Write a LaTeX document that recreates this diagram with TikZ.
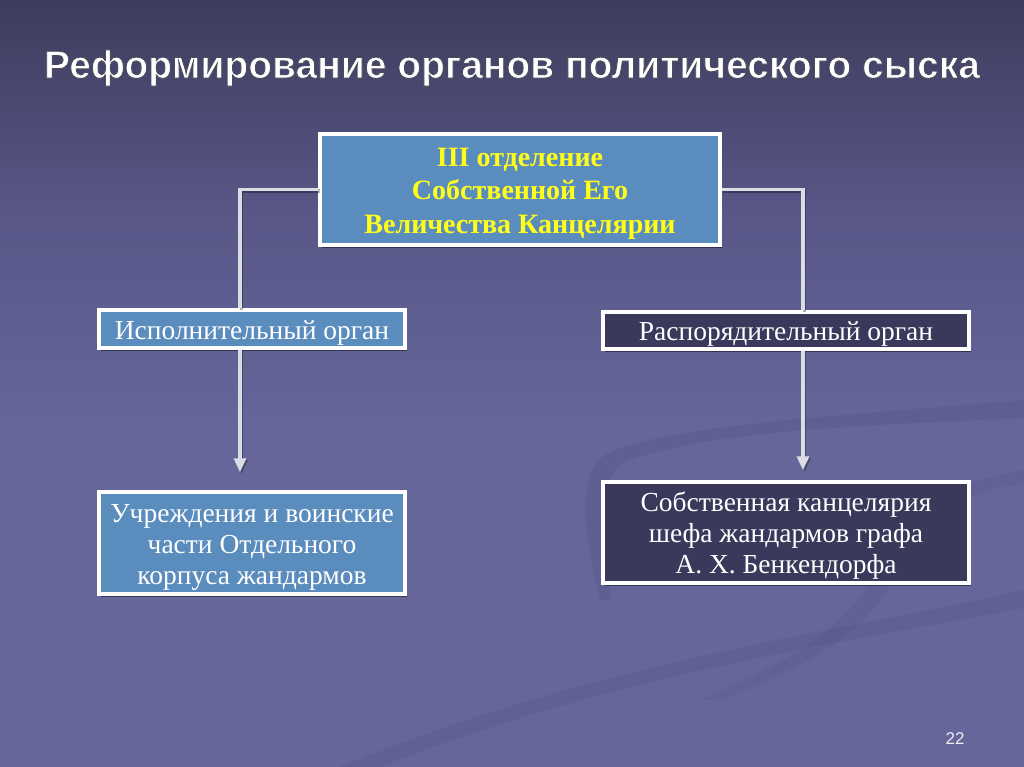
\documentclass[tikz,border=0pt]{standalone}
\usepackage{fontspec}
\setmainfont{Liberation Serif}
\newfontfamily\titlefont{Liberation Sans}
\newfontfamily\numfont{Liberation Sans}
\usetikzlibrary{shadows,arrows.meta,calc}
\definecolor{bgtop}{HTML}{3D3C5D}
\definecolor{bgmid}{HTML}{585788}
\definecolor{bgbot}{HTML}{67669A}
\definecolor{swoosh}{HTML}{4E4D7E}
\definecolor{steel}{HTML}{5B8CBE}
\definecolor{navy}{HTML}{3A395C}
\definecolor{conn}{HTML}{DCDCE6}
\definecolor{gold}{HTML}{FFFF1A}
\newcommand\titletext{Реформирование органов политического сыска}
\newcommand\topstrut{\rule{0pt}{26pt}}
\newcommand\outlined[1]{\special{pdf:code q 2 Tr 0.30 0.30 0.36 RG 0.9 w}#1\special{pdf:code 0 Tr Q}}
\begin{document}
\begin{tikzpicture}[x=1pt,y=-1pt,
  box/.style={draw=white,line width=3.5pt,rectangle,inner sep=0pt,align=center,text=white,
    drop shadow={shadow xshift=2pt,shadow yshift=-3pt,opacity=0.45,fill=black}},
  bluebox/.style={box,fill=steel},
  darkbox/.style={box,fill=navy},
  linkshadow/.style={draw=black,opacity=0.3,line width=3.5pt,transform canvas={xshift=1.5pt,yshift=-1.5pt}},
  link/.style={draw=conn,line width=3.5pt},
  arrowtip/.style={-{Triangle[width=12pt,length=14pt]}},
  boxtext/.style={font=\fontsize{27.5}{31}\selectfont},
  headtext/.style={font=\bfseries\fontsize{28}{33.5}\selectfont,text=gold},
  titleface/.style={font=\titlefont\bfseries\fontsize{39}{42}\selectfont},
]
% background
\useasboundingbox (0,0) rectangle (1024,767);
\fill[top color=bgtop,bottom color=bgbot,middle color=bgmid] (0,0) rectangle (1024,430);
\fill[bgbot] (0,429) rectangle (1024,767);
% swooshes
\fill[swoosh,opacity=0.25] (1024,400) .. controls (850,415) and (660,425) .. (605,455)
  .. controls (575,475) and (585,540) .. (600,600) -- (612,600)
  .. controls (600,540) and (595,480) .. (625,462)
  .. controls (700,432) and (860,425) .. (1024,418) -- cycle;
\fill[swoosh,opacity=0.22] (1024,590) .. controls (850,630) and (600,660) .. (340,767)
  -- (380,767) .. controls (620,672) and (860,640) .. (1024,608) -- cycle;
\fill[swoosh,opacity=0.18] (1024,470) .. controls (950,480) and (900,520) .. (880,560)
  .. controls (860,610) and (820,650) .. (700,700) -- (720,700)
  .. controls (840,655) and (880,615) .. (900,565)
  .. controls (920,520) and (960,490) .. (1024,484) -- cycle;
% title
\node (title) [titleface,text=white] at (512,68) {\outlined{\titletext}};
% boxes
\node (third) [bluebox,minimum width=400pt,minimum height=111pt,headtext] at (520,189.5)
  {\topstrut III отделение\\Собственной Его\\Величества Канцелярии};
\node (exec) [bluebox,minimum width=306pt,minimum height=38pt,boxtext] at (252,329)
  {\topstrut Исполнительный орган};
\node (dist) [darkbox,minimum width=366pt,minimum height=37pt,boxtext] at (786,330.5)
  {\topstrut Распорядительный орган};
\node (inst) [bluebox,minimum width=306pt,minimum height=102pt,boxtext] at (252,543)
  {\topstrut Учреждения и воинские\\части Отдельного\\корпуса жандармов};
\node (canc) [darkbox,minimum width=366pt,minimum height=101pt,boxtext] at (786,532.5)
  {\topstrut Собственная канцелярия\\шефа жандармов графа\\А. Х. Бенкендорфа};
% connectors
\coordinate (lx) at ([xshift=-12pt]exec.north);
\coordinate (rx) at ([xshift=17pt]dist.north);
\draw[linkshadow] (third.west) -| (lx);
\draw[linkshadow] (third.east) -| (rx);
\draw[link] (third.west) -| (lx);
\draw[link] (third.east) -| (rx);
\draw[linkshadow,arrowtip,shorten >=18pt] ([xshift=-12pt]exec.south) -- ([xshift=-12pt]inst.north);
\draw[linkshadow,arrowtip,shorten >=10pt] ([xshift=17pt]dist.south) -- ([xshift=17pt]canc.north);
\draw[link,arrowtip,fill=conn,shorten >=18pt] ([xshift=-12pt]exec.south) -- ([xshift=-12pt]inst.north);
\draw[link,arrowtip,fill=conn,shorten >=10pt] ([xshift=17pt]dist.south) -- ([xshift=17pt]canc.north);
% page number
\node (page) [text=white!88!bgbot] at (955,739) {\numfont\fontsize{17}{20}\selectfont 22};
\end{tikzpicture}
\end{document}
